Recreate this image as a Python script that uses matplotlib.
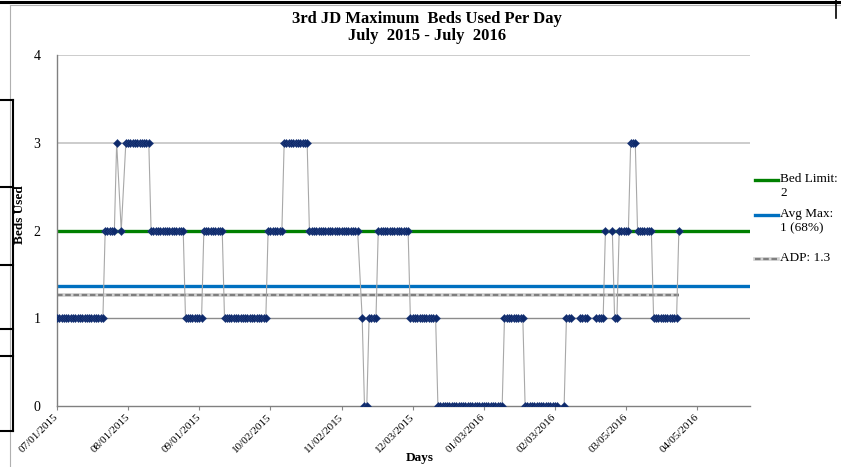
import matplotlib
matplotlib.use('Agg')
import matplotlib.pyplot as plt
from matplotlib.lines import Line2D
import numpy as np
import pandas as pd

plt.rcParams['font.family'] = 'Liberation Serif'

# daily max beds used, stored as runs of equal values (None = day with no record)
start_date = '2015-07-01'
run_values = [1, 2, 3, None, 2, None, 3, 2, 1, 2,
              1, 2, 3, 2, None, 1, 0, 1, 2, 1,
              0, 1, 0, None, 0, 1, None, 1, None, 1,
              2, None, 2, 1, 2, 3, 2, 1, 2]
run_days = [21, 5, 1, 1, 1, 1, 11, 15, 8, 9,
            19, 7, 11, 22, 1, 1, 2, 4, 14, 12,
            29, 9, 15, 2, 1, 3, 3, 4, 3, 4,
            1, 2, 1, 2, 5, 3, 7, 11, 1]

bed_limit = 2
avg_max = 1.37
adp = 1.26

tick_labels = ['07/01/2015', '08/01/2015', '09/01/2015', '10/02/2015', '11/02/2015',
               '12/03/2015', '01/03/2016', '02/03/2016', '03/05/2016', '04/05/2016']
axis_end = '2016-04-28'

# expand runs into daily points, skipping missing days
dates = []
values = []
day = pd.Timestamp(start_date)
for v, n in zip(run_values, run_days):
    for i in range(n):
        if v is not None:
            dates.append(day)
            values.append(v)
        day += pd.Timedelta(days=1)

W, H = 841, 467
fig = plt.figure(figsize=(W / 100, H / 100), dpi=100)
ax = fig.add_axes([57 / W, 1 - 406 / H, (750 - 57) / W, (406 - 55) / H])

for y in [3, 4]:
    ax.axhline(y, color='#C4C4C4', lw=1.2, zorder=1)
ax.axhline(1, color='#8C8C8C', lw=1.0, zorder=1)

ax.axhline(bed_limit, color='#008000', lw=2.4, zorder=2)
ax.axhline(avg_max, color='#0070C0', lw=2.4, zorder=2)
ax.plot([dates[0], dates[-1]], [adp, adp], color='#CFCFCF', lw=2.6, zorder=2,
        solid_capstyle='butt')
ax.plot([dates[0], dates[-1]], [adp, adp], color='#7F7F7F', lw=1.6, zorder=3,
        dashes=(2.5, 1.2))

ax.plot(dates, values, color='#A8A8A8', lw=0.8, marker='D', ms=3.9,
        mfc='#0E2A6B', mec='#26407F', mew=0.4, zorder=5)

ax.set_ylim(0, 4)
ax.set_yticks([0, 1, 2, 3, 4])
ax.set_xlim(pd.Timestamp(start_date), pd.Timestamp(axis_end))
ax.set_xticks(pd.to_datetime(tick_labels, format='%m/%d/%Y'))
ax.set_xticklabels(tick_labels, rotation=45, ha='right', va='center',
                   rotation_mode='anchor', fontsize=8)
ax.tick_params(axis='x', length=3, color='#888888', pad=4)
ax.tick_params(axis='y', length=0, pad=12, labelsize=10)

for s in ['top', 'right']:
    ax.spines[s].set_visible(False)
for s in ['left', 'bottom']:
    ax.spines[s].set_color('#808080')
    ax.spines[s].set_linewidth(1.0)

fig.text(420 / W, 1 - 458 / H, 'Days', fontsize=9.5, fontweight='bold',
         ha='center', va='center')
fig.text(20 / W, 1 - 215 / H, 'Beds Used', rotation=90, fontsize=9.5,
         fontweight='bold', ha='center', va='center')

fig.text(427 / W, 1 - 19 / H, '3rd JD Maximum  Beds Used Per Day',
         ha='center', va='center', fontsize=12, fontweight='bold')
fig.text(427 / W, 1 - 36 / H, 'July  2015 - July  2016',
         ha='center', va='center', fontsize=12, fontweight='bold')

# legend drawn at the right of the plot
legend_items = [('#008000', 'solid', 'Bed Limit:\n2', 180),
                ('#0070C0', 'solid', 'Avg Max:\n1 (68%)', 215),
                ('#7F7F7F', 'dashed', 'ADP: 1.3', 259)]
for color, style, text, ypix in legend_items:
    yf = 1 - ypix / H
    if style == 'dashed':
        fig.add_artist(Line2D([755 / W, 778 / W], [yf, yf], color='#CFCFCF', lw=2.6))
        fig.add_artist(Line2D([755 / W, 778 / W], [yf, yf], color=color, lw=1.6,
                              dashes=(2.5, 1.2)))
    else:
        fig.add_artist(Line2D([755 / W, 778 / W], [yf, yf], color=color, lw=2.4))
    fig.text(780 / W, yf + 7 / H, text, ha='left', va='top', fontsize=9.5,
             linespacing=1.2)

# sheet borders around the chart
fig.add_artist(Line2D([0, 1], [1 - 1.5 / H, 1 - 1.5 / H], color='black', lw=2.2))
fig.add_artist(Line2D([9.5 / W, 1], [1 - 5 / H, 1 - 5 / H], color='#B0B0B0', lw=0.8))
fig.add_artist(Line2D([9.5 / W, 9.5 / W], [0, 1 - 5 / H], color='#B0B0B0', lw=0.8))
fig.add_artist(Line2D([836 / W, 836 / W], [1 - 18 / H, 1], color='black', lw=1.2))
fig.add_artist(Line2D([12.5 / W, 12.5 / W], [1 - 431 / H, 1 - 100 / H], color='black', lw=1.5))
for yp in [100, 187, 265, 329, 356, 431]:
    fig.add_artist(Line2D([0, 13 / W], [1 - yp / H, 1 - yp / H], color='black', lw=1.5))

fig.savefig('out.png', dpi=100)
